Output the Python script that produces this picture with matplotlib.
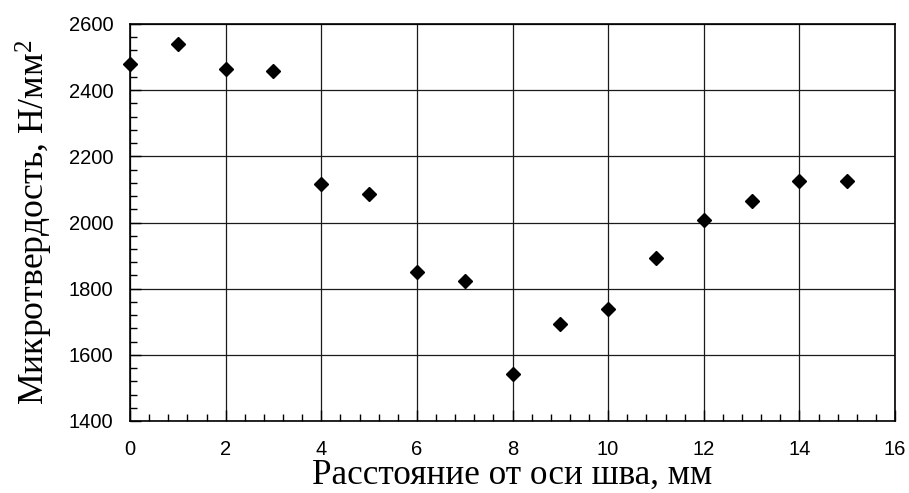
import numpy as np
import matplotlib.pyplot as plt
from matplotlib.ticker import MultipleLocator

# distance from weld axis, mm
distance = [0, 1, 2, 3, 4, 5, 6, 7, 8, 9, 10, 11, 12, 13, 14, 15]
# microhardness, N/mm^2
hardness = [2479, 2540, 2463, 2457, 2115, 2085, 1849, 1822, 1542, 1692,
            1740, 1893, 2007, 2064, 2124, 2124]

x_label = 'Расстояние от оси шва, мм'
y_label = 'Микротвердость, Н/мм$^{2}$'


def main() -> None:
  plt.rcParams['font.family'] = ['Liberation Sans', 'DejaVu Sans']
  plt.rcParams['mathtext.fontset'] = 'custom'
  plt.rcParams['mathtext.rm'] = 'Liberation Serif'
  plt.rcParams['mathtext.it'] = 'Liberation Serif'

  fig = plt.figure(figsize=(9.09, 4.93), dpi=100)
  ax = fig.add_axes([130/909, 1-421/493, (895-130)/909, (421-24)/493])

  #* data
  ax.plot(distance, hardness, linestyle='none', marker='D', markersize=7.5,
          color='black', clip_on=False, zorder=3)

  #* axes
  ax.set_xlim(0, 16)
  ax.set_ylim(1400, 2600)
  ax.xaxis.set_major_locator(MultipleLocator(2))
  ax.xaxis.set_minor_locator(MultipleLocator(0.4))
  ax.yaxis.set_major_locator(MultipleLocator(200))
  ax.yaxis.set_minor_locator(MultipleLocator(40))
  ax.tick_params(which='both', direction='in', labelsize=14.5)
  ax.tick_params(which='major', length=8, width=1)
  ax.tick_params(which='minor', length=5, width=1)
  ax.tick_params(axis='y', pad=12)
  ax.tick_params(axis='x', pad=14)
  ax.grid(True, which='major', color='#1a1a1a', linewidth=0.9)
  for s in ax.spines.values():
    s.set_linewidth(1.2)

  #* labels
  ax.set_xlabel(x_label, family='Liberation Serif', fontsize=25.3)
  ax.set_ylabel(y_label, family='Liberation Serif', fontsize=25.7)
  ax.xaxis.set_label_coords(0.5, -(459-421)/397)
  ax.yaxis.set_label_coords(-(130-55)/765, 0.5)

  fig.savefig('out.png', dpi=100)


if __name__ == "__main__":
  main()
